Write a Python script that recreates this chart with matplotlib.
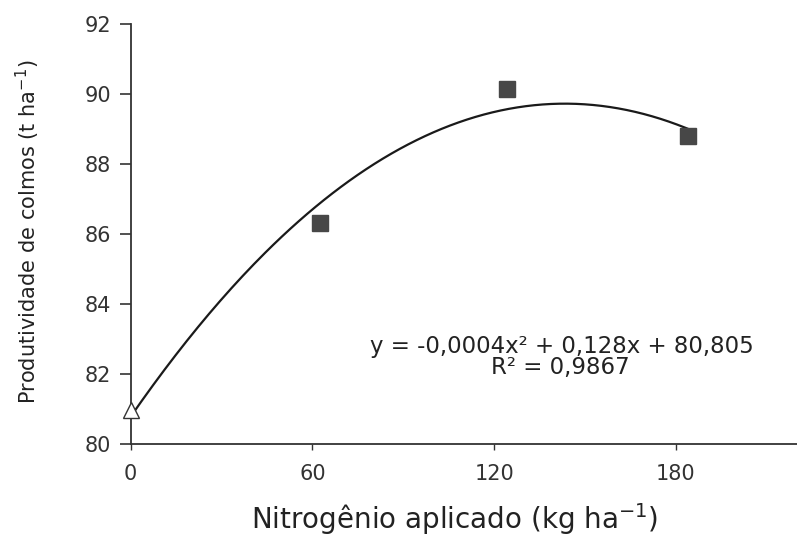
import matplotlib
matplotlib.use("Agg")
import matplotlib.pyplot as plt
import numpy as np

# values
n_control = [0]
prod_control = [80.97]
n_doses = [62.4, 124.3, 184.1]
prod_doses = [86.32, 90.14, 88.81]

x_ticks = [0, 60, 120, 180]
y_ticks = [80, 82, 84, 86, 88, 90, 92]

eq_text = "y = -0,0004x² + 0,128x + 80,805"
r2_text = "R² = 0,9867"

plt.rcParams['font.family'] = ['DejaVu Sans']
plt.rcParams['mathtext.fontset'] = 'dejavusans'

fig = plt.figure(figsize=(7.97, 5.37), dpi=100)
ax = fig.add_axes([0.164, 0.173, 0.836, 0.782])

# quadratic regression through all the points
x_all = np.array(n_control + n_doses)
y_all = np.array(prod_control + prod_doses)
coef = np.polyfit(x_all, y_all, 2)
xc = np.linspace(x_all.min(), x_all.max(), 200)
ax.plot(xc, np.polyval(coef, xc), color='#1a1a1a', linewidth=1.6, zorder=2)

ax.plot(n_doses, prod_doses, linestyle='none', marker='s', markersize=11,
        markerfacecolor='#474747', markeredgecolor='#474747', zorder=3)
ax.plot(n_control, prod_control, linestyle='none', marker='^', markersize=11,
        markerfacecolor='white', markeredgecolor='#333333', markeredgewidth=1.0,
        clip_on=False, zorder=3)

ax.set_xlim(0, 220)
ax.set_ylim(80, 92)
ax.set_xticks(x_ticks)
ax.set_yticks(y_ticks)

for s in ['top', 'right']:
    ax.spines[s].set_visible(False)
for s in ['left', 'bottom']:
    ax.spines[s].set_color('#333333')
    ax.spines[s].set_linewidth(1.3)

ax.tick_params(axis='y', direction='out', length=8, width=1.2, colors='#333333',
               labelsize=15, pad=6)
ax.tick_params(axis='x', direction='out', length=4, width=1.0, colors='#333333',
               labelsize=15, pad=10)

ax.set_xlabel("Nitrogênio aplicado (kg ha$^{-1}$)", fontsize=20, color='#222222')
ax.xaxis.label.set_va('center')
ax.xaxis.set_label_coords(0.4865, -0.179)
ax.set_ylabel("Produtividade de colmos (t ha$^{-1}$)", fontsize=15, color='#222222')
ax.yaxis.label.set_va('center')
ax.yaxis.set_label_coords(-0.155, 0.505)

ax.text(142.5, 82.8, eq_text, fontsize=16.5, color='#222222', ha='center', va='center')
ax.text(142, 82.2, r2_text, fontsize=16.5, color='#222222', ha='center', va='center')

fig.savefig("out.png", dpi=100, facecolor='white')
